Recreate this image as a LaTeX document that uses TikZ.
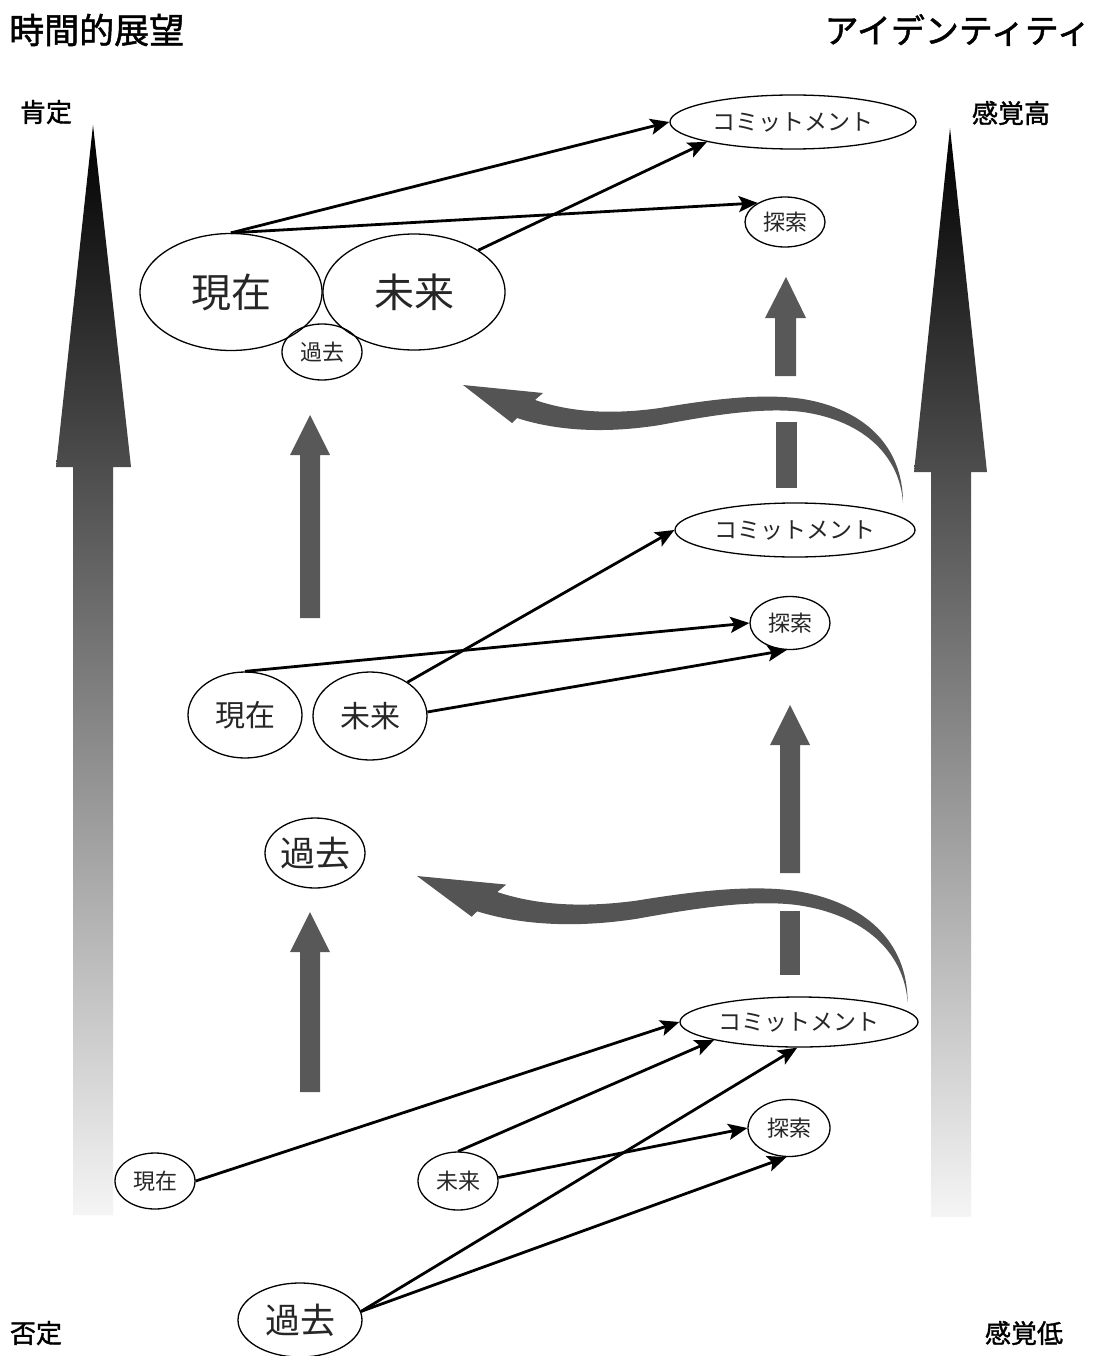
\documentclass[tikz,border=0pt]{standalone}
\usepackage{fontspec}
\newfontfamily\cjk{Noto Sans CJK JP}
\newfontfamily\cjkmid{Noto Sans CJK JP}[FakeBold=1.4]
\usetikzlibrary{shapes.geometric,arrows.meta}
\definecolor{blockgray}{RGB}{88,88,88}
\definecolor{swooshgray}{RGB}{84,84,84}
\tikzset{
  bub/.style={ellipse, draw, line width=1.3pt, inner sep=0pt, text=black!85},
  sz/.style={font=\cjk\fontsize{#1}{#1}\selectfont},
  lbl/.style={inner sep=0pt, font=\cjkmid\fontsize{#1}{#1}\selectfont},
  conn/.style={line width=2.8pt, -{Stealth[length=19pt,width=16pt,inset=4pt]}},
  swoosh/.pic={
    \fill[swooshgray] (0,0) -- (80,8) -- (72,15)
      .. controls (107,27) and (147,30) .. (197,23)
      .. controls (250,14) and (300,8) .. (340,14)
      .. controls (400,24) and (440,60) .. (440,118)
      .. controls (437,72) and (402,36) .. (340,27)
      .. controls (300,22) and (250,30) .. (197,40)
      .. controls (147,48) and (97,47) .. (54,33)
      -- (49,38) -- cycle;
  }
}
\begin{document}
\begin{tikzpicture}[x=1pt,y=-1pt]
\useasboundingbox (0,0) rectangle (1100,1356);
\fill[white] (0,0) rectangle (1100,1356);

% side scales
\shade[top color=black, bottom color=black!4]
  (93,125) -- (131,467) -- (113,467) -- (113,1215) -- (73,1215) -- (73,467) -- (56,467) -- cycle;
\shade[top color=black, bottom color=black!4]
  (950,128) -- (987,472) -- (971,472) -- (971,1217) -- (931,1217) -- (931,472) -- (914,472) -- cycle;

% headings
\node[lbl=35, anchor=west] (tp) at (9,30) {時間的展望};
\node[lbl=34, anchor=east] (id) at (1091,30) {アイデンティティ};
\node[lbl=26] (pos) at (46,112) {肯定};
\node[lbl=26] (neg) at (36,1333) {否定};
\node[lbl=26] (hi) at (1011,113) {感覚高};
\node[lbl=26] (lo) at (1024,1333) {感覚低};

% block arrows, left column
\fill[blockgray] (310,415) -- (330,455) -- (320,455) -- (320,618) -- (300,618) -- (300,455) -- (290,455) -- cycle;
\fill[blockgray] (310,912) -- (330,952) -- (320,952) -- (320,1092) -- (300,1092) -- (300,952) -- (290,952) -- cycle;
% block arrows, right column
\fill[blockgray] (786,277) -- (806,318) -- (796,318) -- (796,376) -- (775,376) -- (775,318) -- (765,318) -- cycle;
\fill[blockgray] (776,422) rectangle (797,488);
\fill[blockgray] (790,705) -- (810,745) -- (800,745) -- (800,873) -- (780,873) -- (780,745) -- (770,745) -- cycle;
\fill[blockgray] (780,911) rectangle (800,975);

% curved return arrows
\pic at (463,385) {swoosh};
\pic[xscale=1.115, yscale=1.07] at (417,876) {swoosh};

% upper stage
\node[bub, sz=23, minimum width=246, minimum height=54] (tcom) at (793,122) {コミットメント};
\node[bub, sz=22, minimum width=80, minimum height=50] (texp) at (785,222) {探索};
\node[bub, sz=40, minimum width=182, minimum height=117] (tnow) at (231,292) {現在};
\node[bub, sz=40, minimum width=182, minimum height=116] (tfut) at (414,292) {未来};
\node[bub, sz=22, minimum width=80, minimum height=56] (tpast) at (322,352) {過去};

\draw[conn] (tnow.north) -- (tcom.west);
\draw[conn] (tnow.north) -- (texp.145);
\draw[conn] (tfut.33) -- (tcom.193);

% middle stage
\node[bub, sz=23, minimum width=240, minimum height=54] (mcom) at (795,530) {コミットメント};
\node[bub, sz=22, minimum width=80, minimum height=53] (mexp) at (790,623) {探索};
\node[bub, sz=30, minimum width=114, minimum height=86] (mnow) at (245,715) {現在};
\node[bub, sz=30, minimum width=114, minimum height=88] (mfut) at (370,716) {未来};
\node[bub, sz=35, minimum width=100, minimum height=70] (lpast) at (315,853) {過去};

\draw[conn] (mnow.north) -- (mexp.west);
\draw[conn] (mfut.42) -- (mcom.west);
\draw[conn] (mfut.4) -- (mexp.263);

% lower stage
\node[bub, sz=23, minimum width=238, minimum height=50] (bcom) at (799,1022) {コミットメント};
\node[bub, sz=22, minimum width=82, minimum height=57] (bexp) at (789,1128) {探索};
\node[bub, sz=22, minimum width=80, minimum height=56] (bnow) at (155,1181) {現在};
\node[bub, sz=22, minimum width=80, minimum height=58] (bfut) at (458,1181) {未来};
\node[bub, sz=35, minimum width=124, minimum height=74] (bpast) at (300,1320) {過去};

\draw[conn] (bnow.east) -- (bcom.west);
\draw[conn] (bfut.north) -- (bcom.192);
\draw[conn] (bfut.5) -- (bexp.west);
\draw[conn] (bpast.8) -- (bcom.266);
\draw[conn] (bpast.8) -- (bexp.265);
\end{tikzpicture}
\end{document}
